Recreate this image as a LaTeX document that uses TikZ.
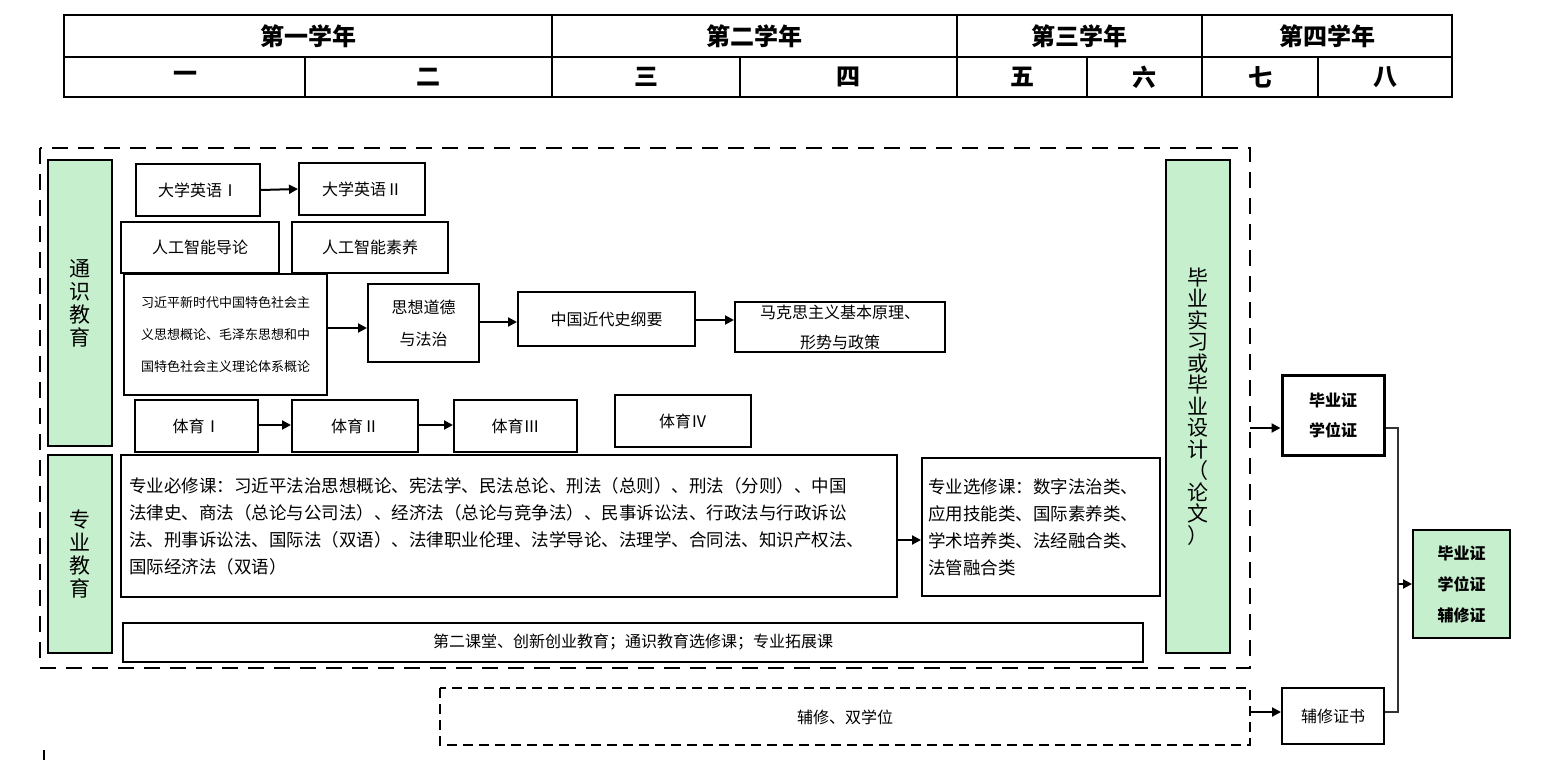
\documentclass[tikz,border=0pt]{standalone}
\usepackage{fontspec}
\setmainfont{Noto Sans CJK SC}
\usetikzlibrary{arrows.meta}
\definecolor{lg}{RGB}{198,239,206}
\begin{document}
\begin{tikzpicture}[x=1pt,y=-1pt,
  box/.style={draw,line width=2pt,inner sep=0pt,align=center,font=\fontsize{16}{27}\selectfont},
  gbox/.style={box,fill=lg},
  arr/.style={line width=2pt,-{Triangle[length=9pt,width=9pt]}},
  thin/.style={draw=black!80,line width=1.4pt},
  hd/.style={font=\fontsize{24}{26}\selectfont\bfseries}]
\useasboundingbox (0,0) rectangle (1552,760);
% header
\draw[line width=1.8pt] (64,15) rectangle (1452,97);
\draw[line width=1.8pt] (64,57) -- (1452,57);
\foreach \x in {552,957,1202} \draw[line width=1.8pt] (\x,15) -- (\x,97);
\foreach \x in {305,740,1087,1318} \draw[line width=1.8pt] (\x,57) -- (\x,97);
\node[hd] (y1) at (308,36) {第一学年};
\node[hd] (y2) at (754,36) {第二学年};
\node[hd] (y3) at (1079,36) {第三学年};
\node[hd] (y4) at (1327,36) {第四学年};
\foreach \x/\t/\n in {185/一/s1,428/二/s2,646/三/s3,848/四/s4,1022/五/s5,1144/六/s6,1260/七/s7,1385/八/s8}
  \node[hd] (\n) at (\x,77) {\t};
% dashed frames
\draw[line width=2.6pt,dash pattern=on 16pt off 10pt] (40,148) rectangle (1250,668);
\draw[line width=1.6pt,dash pattern=on 10pt off 6pt] (440,688) rectangle (1250,745);
\coordinate (fr1) at (1250,428);
\coordinate (fr2) at (1250,712);
\node[font=\fontsize{16}{18}\selectfont] (fx) at (845,717) {辅修、双学位};
% green side boxes
\node[gbox,minimum width=64pt,minimum height=286pt,font=\fontsize{21}{23}\selectfont] (tg) at (80,303) {通\\识\\教\\育};
\node[gbox,minimum width=64pt,minimum height=198pt,font=\fontsize{21}{23}\selectfont] (zy) at (80,554) {专\\业\\教\\育};
\node[gbox,minimum width=64pt,minimum height=493pt,font=\fontsize{21}{21.5}\selectfont] (by) at (1198,406.5) {毕\\业\\实\\习\\或\\毕\\业\\设\\计\\（\\论\\文\\）};
% boxes
\node[box,minimum width=124pt,minimum height=52pt] (e1) at (198,190) {大学英语Ⅰ};
\node[box,minimum width=126pt,minimum height=52pt] (e2) at (362,189) {大学英语Ⅱ};
\node[box,minimum width=158pt,minimum height=51pt] (ai1) at (200,247.5) {人工智能导论};
\node[box,minimum width=156pt,minimum height=51pt] (ai2) at (370,247.5) {人工智能素养};
\node[box,minimum width=203pt,minimum height=121pt,font=\fontsize{13}{32}\selectfont] (xi) at (225.5,334.5) {习近平新时代中国特色社会主\\义思想概论、毛泽东思想和中\\国特色社会主义理论体系概论};
\node[box,minimum width=111pt,minimum height=78pt,font=\fontsize{16}{32}\selectfont] (sx) at (423.5,323) {思想道德\\与法治};
\node[box,minimum width=177pt,minimum height=54pt] (zg) at (606.5,319) {中国近代史纲要};
\node[box,minimum width=210pt,minimum height=50pt,font=\fontsize{16}{30}\selectfont] (mk) at (840,327) {马克思主义基本原理、\\形势与政策};
\node[box,minimum width=123pt,minimum height=52pt] (t1) at (196.5,426) {体育Ⅰ};
\node[box,minimum width=126pt,minimum height=52pt] (t2) at (355,426) {体育Ⅱ};
\node[box,minimum width=123pt,minimum height=52pt] (t3) at (515.5,426) {体育Ⅲ};
\node[box,minimum width=136pt,minimum height=52pt] (t4) at (683,421) {体育Ⅳ};
\node[box,minimum width=776pt,minimum height=142pt,text width=760pt,align=left,font=\fontsize{17.5}{27}\selectfont] (bx) at (509,526) {专业必修课：习近平法治思想概论、宪法学、民法总论、刑法（总则）、刑法（分则）、中国\\法律史、商法（总论与公司法）、经济法（总论与竞争法）、民事诉讼法、行政法与行政诉讼\\法、刑事诉讼法、国际法（双语）、法律职业伦理、法学导论、法理学、合同法、知识产权法、\\国际经济法（双语）};
\node[box,minimum width=238pt,minimum height=138pt,text width=226pt,align=left,font=\fontsize{17.5}{27}\selectfont] (xx) at (1041,527) {专业选修课：数字法治类、\\应用技能类、国际素养类、\\学术培养类、法经融合类、\\法管融合类};
\node[box,minimum width=1020pt,minimum height=39pt] (de) at (633,642.5) {第二课堂、创新创业教育；通识教育选修课；专业拓展课};
\node[box,line width=3pt,minimum width=102pt,minimum height=80pt,font=\fontsize{16}{30}\selectfont\bfseries] (bz) at (1333,415) {毕业证\\学位证};
\node[gbox,minimum width=97pt,minimum height=108pt,font=\fontsize{16}{31}\selectfont\bfseries] (bz2) at (1461.5,584) {毕业证\\学位证\\辅修证};
\node[box,minimum width=102pt,minimum height=56pt] (fz) at (1333,716) {辅修证书};
% arrows
\draw[arr] (e1.east) -- (e2.west);
\draw[arr] (xi.east |- 0,328) -- (sx.west |- 0,328);
\draw[arr] (sx.east |- 0,322) -- (zg.west |- 0,322);
\draw[arr] (zg.east |- 0,320) -- (mk.west |- 0,320);
\draw[arr] (t1.east |- 0,425) -- (t2.west |- 0,425);
\draw[arr] (t2.east |- 0,425) -- (t3.west |- 0,425);
\draw[arr] (bx.east |- 0,540) -- (xx.west |- 0,540);
\draw[arr] (fr1) -- (bz.west |- fr1);
\draw[arr] (fr2) -- (fz.west |- fr2);
\coordinate (jn) at (1398,584);
\draw[thin] (bz.east |- 0,428) -| (jn) |- (fz.east |- 0,712);
\draw[arr] (jn) -- (bz2.west);
\draw[line width=2pt] (44,750) -- (44,760);
\end{tikzpicture}
\end{document}
